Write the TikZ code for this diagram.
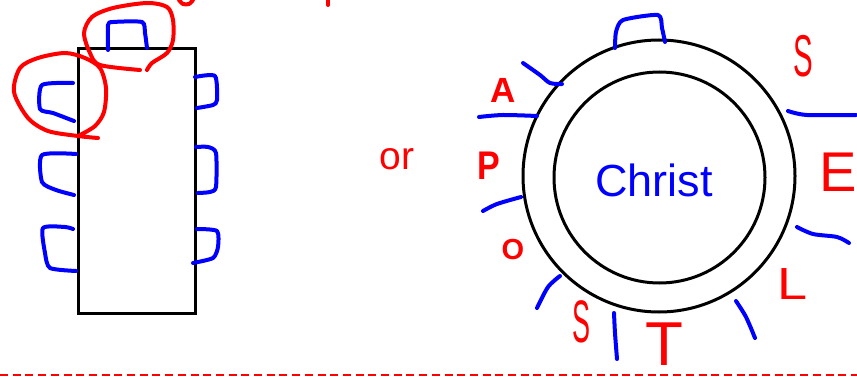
\documentclass[tikz,border=0pt]{standalone}
\usepackage{fontspec}
\setmainfont{Liberation Sans}
\usepackage{tikz}
\usetikzlibrary{positioning,calc}
\definecolor{inkred}{HTML}{FF0000}
\definecolor{inkblue}{HTML}{0000FF}
\newcommand{\fsz}[1]{\fontsize{#1}{#1}\selectfont}

\begin{document}
\begin{tikzpicture}[x=1pt,y=-1pt,
 pen/.style={line width=4pt,line cap=round,line join=round},
 bluepen/.style={pen,draw=inkblue},
 redpen/.style={pen,draw=inkred},
 letter/.style={text=inkred,inner sep=0pt}]
\useasboundingbox (0,0) rectangle (857,377);
% table and chairs
\node[draw,line width=3pt,minimum width=117pt,minimum height=264pt,inner sep=0pt] (table) at (136.5,181) {};
\draw[bluepen] plot[smooth,tension=0.4] coordinates {(108,50) (108,25) (113,22) (142,22) (145,33) (147,48)};
\draw[bluepen] plot[smooth,tension=0.4] coordinates {(73,83) (42,85) (40,109) (53,113) (74,121)};
\draw[bluepen] plot[smooth,tension=0.4] coordinates {(76,154) (42,155) (42,182) (56,190) (74,195)};
\draw[bluepen] plot[smooth,tension=0.4] coordinates {(73,229) (65,227) (43,228) (45,253) (50,268) (76,271)};
\draw[bluepen] plot[smooth,tension=0.4] coordinates {(195,77) (215,76) (217,100) (213,105) (197,108)};
\draw[bluepen] plot[smooth,tension=0.4] coordinates {(196,147) (208,147) (216,153) (216,187) (210,192) (198,193)};
\draw[bluepen] plot[smooth,tension=0.4] coordinates {(197,229) (217,231) (218,247) (213,258) (193,263)};
% red rings
\draw[redpen] plot[smooth] coordinates {(147,70) (152,63) (167,53) (173,40) (173,20) (167,7) (147,3) (113,8) (92,17) (84,33) (90,53) (100,65) (140,70)};
\draw[redpen] plot[smooth] coordinates {(98,138) (78,136) (48,131) (28,118) (14,92) (20,68) (38,58) (65,53) (85,58) (100,68) (106,88) (104,112) (95,126) (80,135)};
\draw[redpen] plot[smooth] coordinates {(179,0) (183,4) (189,4) (193,0)};
\draw[redpen] (328,0) -- (328,5);
\node[text=inkred,inner sep=0pt] (or) at (397,159) {\fsz{39}or};
% round table
\node[circle,draw,line width=3pt,minimum size=272pt,inner sep=0pt] (outer) at (659,176) {};
\node[circle,draw,line width=3pt,minimum size=211pt,inner sep=0pt] (inner) at (659.5,177.5) {};
\node[text=inkblue,inner sep=0pt] (christ) at (654,180) {\fsz{45}Christ};
\draw[bluepen] plot[smooth,tension=0.4] coordinates {(615,48) (616,32) (623,20) (658,15) (662,28) (665,42)};
\draw[bluepen] plot[smooth] coordinates {(523,63) (540,75) (550,83) (562,84)};
\draw[bluepen] plot[smooth] coordinates {(479,117) (503,115) (537,116)};
\draw[bluepen] plot[smooth] coordinates {(483,211) (497,204) (521,197)};
\draw[bluepen] plot[smooth] coordinates {(560,276) (548,287) (537,308)};
\draw[bluepen] plot[smooth] coordinates {(614,313) (615,333) (617,359)};
\draw[bluepen] plot[smooth] coordinates {(736,301) (746,317) (755,338)};
\draw[bluepen] plot[smooth] coordinates {(797,227) (813,234) (837,237) (849,243)};
\draw[bluepen] plot[smooth] coordinates {(788,111) (807,115) (856,115)};
% apostles
\node[letter] (a) at (503,90) {\fsz{35}\bfseries A};
\node[letter] (p) at (489,166) {\fsz{40}\bfseries\scalebox{0.85}[1]{P}};
\node[letter] (o) at (513,250) {\fsz{29}\bfseries O};
\node[letter] (s1) at (581,322) {\fsz{60}\scalebox{0.45}[1]{S}};
\node[letter] (t) at (664,344) {\fsz{62}T};
\node[letter] (l) at (793,284) {\fsz{45}\scalebox{1.2}[1]{L}};
\node[letter] (e) at (838,172) {\fsz{56}E};
\node[letter] (s2) at (803,56) {\fsz{59}\scalebox{0.5}[1]{S}};
% divider
\draw[inkred,line width=2.2pt,dash pattern=on 8pt off 4.7pt] (0,375) -- (857,375);
\end{tikzpicture}
\end{document}
